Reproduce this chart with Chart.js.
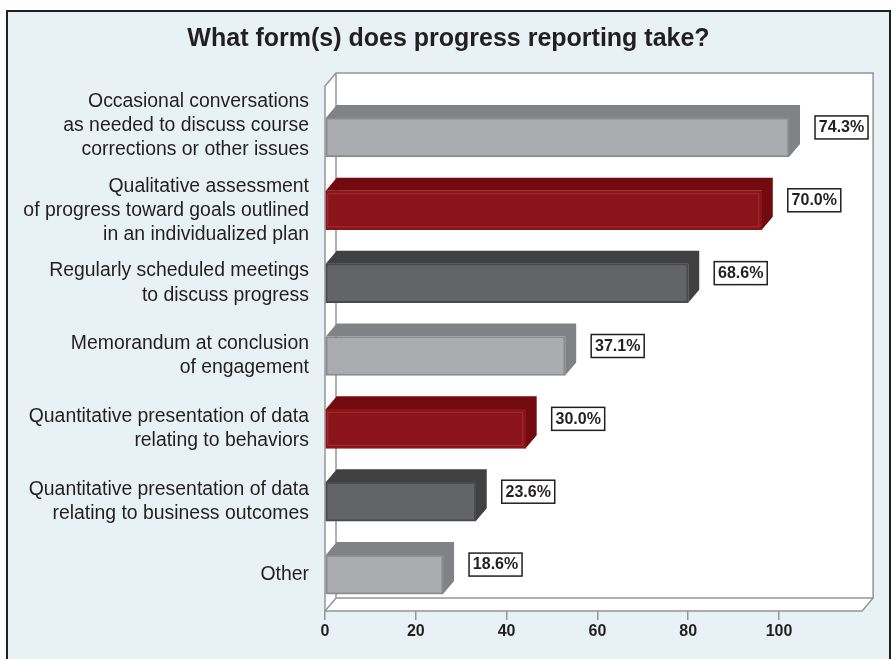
<!DOCTYPE html>
<html>
<head>
<meta charset="utf-8">
<style>
  html, body { margin: 0; padding: 0; background: #fff; }
  #wrap { position: relative; width: 893px; height: 659px; overflow: hidden; }
  #panel { position: absolute; left: 6px; top: 10px; width: 881px; height: 660px; background: #e8f1f3; border: 2px solid #231f20; box-sizing: content-box; }
  canvas { position: absolute; left: 0; top: 0; }
</style>
</head>
<body>
<div id="wrap">
  <div id="panel"></div>
  <canvas id="chart" width="893" height="659"></canvas>
</div>
<script src="https://cdn.jsdelivr.net/npm/chart.js@4"></script>
<script>
const titleText = 'What form(s) does progress reporting take?';
const categories = [
  ['Occasional conversations', 'as needed to discuss course', 'corrections or other issues', ''],
  ['Qualitative assessment', 'of progress toward goals outlined', 'in an individualized plan'],
  ['Regularly scheduled meetings', 'to discuss progress'],
  ['Memorandum at conclusion', 'of engagement'],
  ['Quantitative presentation of data', 'relating to behaviors'],
  ['Quantitative presentation of data', 'relating to business outcomes'],
  ['Other']
];
// bar lengths as drawn against the axis (they do not follow the printed labels)
const barValues = [102.2, 96.2, 80.0, 52.9, 44.2, 33.2, 26.0];
const barLabels = ['74.3%', '70.0%', '68.6%', '37.1%', '30.0%', '23.6%', '18.6%'];
const xTicks = [0, 20, 40, 60, 80, 100];
const floorEnd = 118.3; // where the front edge of the floor stops on the x axis

const frontColors = ['#aaacaf', '#8a1419', '#636466', '#aaacaf', '#8a1419', '#636466', '#aaacaf'];
const edgeColors = ['#8a8c8f', '#8a1419', '#4a4a4c', '#8a8c8f', '#8a1419', '#4a4a4c', '#8a8c8f'];
const depthColors = ['#808285', '#730a0d', '#414042', '#808285', '#730a0d', '#414042', '#808285'];

const depthX = 11;
const depthY = 13;
const frameColor = '#939598';

// back wall, side wall and floor of the 3d box
const framePlugin = {
  id: 'frame',
  beforeDatasetsDraw(chart) {
    const { ctx, chartArea: a } = chart;
    const top = a.top - 15;
    const right = chart.scales.x.getPixelForValue(floorEnd);
    ctx.save();
    ctx.fillStyle = '#fff';
    ctx.strokeStyle = frameColor;
    ctx.lineWidth = 1.5;
    ctx.beginPath();
    ctx.moveTo(a.left, top);
    ctx.lineTo(a.left + depthX, top - depthY);
    ctx.lineTo(right + depthX, top - depthY);
    ctx.lineTo(right + depthX, a.bottom - depthY);
    ctx.lineTo(right, a.bottom);
    ctx.lineTo(a.left, a.bottom);
    ctx.closePath();
    ctx.fill();
    ctx.stroke();
    ctx.beginPath();
    ctx.moveTo(a.left + depthX, top - depthY);
    ctx.lineTo(a.left + depthX, a.bottom - depthY);
    ctx.lineTo(right + depthX, a.bottom - depthY);
    ctx.moveTo(a.left + depthX, a.bottom - depthY);
    ctx.lineTo(a.left, a.bottom);
    ctx.stroke();
    ctx.restore();

    // top and side faces of each bar
    const bars = chart.getDatasetMeta(0).data;
    bars.forEach((bar, i) => {
      const y0 = bar.y - bar.height / 2;
      const y1 = bar.y + bar.height / 2;
      ctx.fillStyle = depthColors[i];
      ctx.beginPath();
      ctx.moveTo(bar.base, y0);
      ctx.lineTo(bar.base + depthX, y0 - depthY);
      ctx.lineTo(bar.x + depthX, y0 - depthY);
      ctx.lineTo(bar.x + depthX, y1 - depthY);
      ctx.lineTo(bar.x, y1);
      ctx.lineTo(bar.x, y0);
      ctx.closePath();
      ctx.fill();
    });
  }
};

// boxed percentage next to each bar, plus the faint inset line on the red bars
const labelPlugin = {
  id: 'barLabels',
  afterDatasetsDraw(chart) {
    const { ctx } = chart;
    chart.getDatasetMeta(0).data.forEach((bar, i) => {
      if (frontColors[i] === '#8a1419') {
        ctx.save();
        ctx.strokeStyle = '#9c3034';
        ctx.lineWidth = 1;
        ctx.strokeRect(bar.base + 2, bar.y - bar.height / 2 + 3, bar.x - bar.base - 5, bar.height - 6);
        ctx.restore();
      }
      const w = 53, h = 23;
      const x = bar.x + 26;
      const y = bar.y - 10 - h / 2;
      ctx.save();
      ctx.fillStyle = '#fff';
      ctx.strokeStyle = '#231f20';
      ctx.lineWidth = 1.5;
      ctx.fillRect(x, y, w, h);
      ctx.strokeRect(x, y, w, h);
      ctx.fillStyle = '#231f20';
      ctx.font = 'bold 16px "Liberation Sans"';
      ctx.textAlign = 'center';
      ctx.textBaseline = 'middle';
      ctx.fillText(barLabels[i], x + w / 2, y + h / 2 + 0.5);
      ctx.restore();
    });
  }
};

new Chart(document.getElementById('chart'), {
  type: 'bar',
  data: {
    labels: categories,
    datasets: [{
      data: barValues,
      backgroundColor: frontColors,
      borderColor: edgeColors,
      borderWidth: 2,
      borderSkipped: false,
      barThickness: 39
    }]
  },
  options: {
    indexAxis: 'y',
    responsive: false,
    animation: false,
    layout: { autoPadding: false, padding: { left: 4, right: 0, top: 0, bottom: 0 } },
    plugins: {
      legend: { display: false },
      tooltip: { enabled: false },
      title: {
        display: true,
        text: titleText,
        color: '#231f20',
        font: { family: '"Liberation Sans"', size: 25, weight: 'bold', lineHeight: 1.2 },
        padding: { top: 24, bottom: 47 }
      }
    },
    scales: {
      x: {
        min: 0,
        max: 125.1,
        afterBuildTicks(scale) {
          scale.ticks = xTicks.map(v => ({ value: v }));
        },
        afterFit(scale) { scale.height = 48; },
        border: { display: false },
        grid: { drawOnChartArea: false, drawTicks: true, tickLength: 9, color: frameColor, lineWidth: 1.5 },
        ticks: {
          color: '#231f20',
          maxRotation: 0,
          padding: 2,
          font: { family: '"Liberation Sans"', size: 16, weight: 'bold' }
        }
      },
      y: {
        afterFit(scale) {
          scale.width = 321;
          // tall multi-line labels otherwise push the plot area up
          scale.paddingTop = 0;
          scale.paddingBottom = 0;
        },
        border: { display: false },
        grid: { display: false, drawTicks: false },
        ticks: {
          color: '#231f20',
          padding: 16,
          autoSkip: false,
          font: { family: '"Liberation Sans"', size: 19.4, lineHeight: 1.24 }
        }
      }
    }
  },
  plugins: [framePlugin, labelPlugin]
});
</script>
</body>
</html>
